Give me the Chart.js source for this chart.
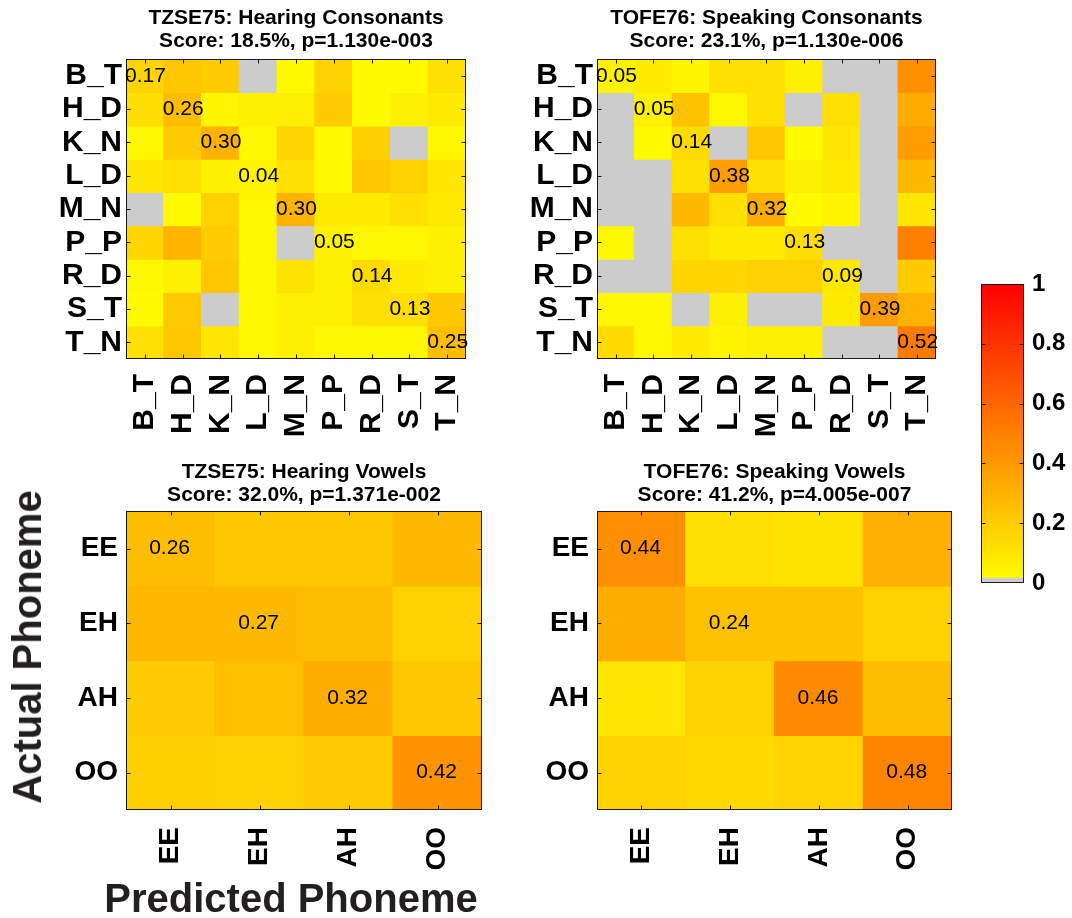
<!DOCTYPE html>
<html>
<head>
<meta charset="utf-8">
<script src="https://cdn.jsdelivr.net/npm/chart.js@4.4.1/dist/chart.umd.min.js"></script>
<style>
  html, body { margin: 0; padding: 0; background: #ffffff; }
  body { position: relative; width: 1072px; height: 918px; overflow: hidden; font-family: "Liberation Sans", Arial, Helvetica, sans-serif; }
  .box { position: absolute; }
  .box canvas { display: block; }
  .big { position: absolute; font-weight: bold; font-size: 40px; color: #231f20; white-space: nowrap; line-height: 1; }
</style>
</head>
<body>
<div class="box" style="left:0px;top:0px;width:500px;height:450px"><canvas id="cHC" width="500" height="450"></canvas></div>
<div class="box" style="left:470px;top:0px;width:500px;height:450px"><canvas id="cSC" width="500" height="450"></canvas></div>
<div class="box" style="left:0px;top:450px;width:500px;height:468px"><canvas id="cHV" width="500" height="468"></canvas></div>
<div class="box" style="left:470px;top:450px;width:500px;height:468px"><canvas id="cSV" width="500" height="468"></canvas></div>
<div class="box" style="left:970px;top:250px;width:102px;height:360px"><canvas id="cCB" width="102" height="360"></canvas></div>
<div class="big" id="ylab" style="left:27px;top:647px;transform:translate(-50%,-50%) rotate(-90deg);">Actual Phoneme</div>
<div class="big" id="xlab" style="left:291px;top:898px;transform:translate(-50%,-50%);">Predicted Phoneme</div>
<script>
// ---------------- data ----------------
const consonantLabels = ['B_T', 'H_D', 'K_N', 'L_D', 'M_N', 'P_P', 'R_D', 'S_T', 'T_N'];
const vowelLabels = ['EE', 'EH', 'AH', 'OO'];

// rows = actual phoneme, columns = predicted phoneme
const hearingConsonants = [
  [0.17, 0.22, 0.20, 0.00, 0.02, 0.18, 0.02, 0.02, 0.12],
  [0.13, 0.26, 0.04, 0.06, 0.06, 0.20, 0.02, 0.06, 0.08],
  [0.03, 0.20, 0.30, 0.03, 0.17, 0.02, 0.19, 0.00, 0.03],
  [0.10, 0.12, 0.05, 0.04, 0.12, 0.03, 0.22, 0.18, 0.10],
  [0.00, 0.02, 0.18, 0.03, 0.30, 0.08, 0.08, 0.12, 0.09],
  [0.16, 0.29, 0.20, 0.03, 0.00, 0.05, 0.03, 0.03, 0.06],
  [0.03, 0.06, 0.22, 0.03, 0.11, 0.06, 0.14, 0.08, 0.06],
  [0.02, 0.21, 0.00, 0.03, 0.06, 0.06, 0.12, 0.13, 0.22],
  [0.12, 0.22, 0.10, 0.03, 0.06, 0.03, 0.03, 0.03, 0.25]
];
const speakingConsonants = [
  [0.05, 0.08, 0.04, 0.12, 0.12, 0.06, 0.00, 0.00, 0.43],
  [0.00, 0.05, 0.24, 0.03, 0.12, 0.00, 0.12, 0.00, 0.33],
  [0.00, 0.02, 0.14, 0.00, 0.22, 0.02, 0.10, 0.00, 0.39],
  [0.00, 0.00, 0.12, 0.38, 0.12, 0.06, 0.08, 0.00, 0.27],
  [0.00, 0.00, 0.27, 0.12, 0.32, 0.02, 0.04, 0.00, 0.10],
  [0.03, 0.00, 0.12, 0.08, 0.08, 0.13, 0.00, 0.00, 0.50],
  [0.00, 0.00, 0.16, 0.16, 0.18, 0.18, 0.09, 0.00, 0.20],
  [0.03, 0.03, 0.00, 0.06, 0.00, 0.00, 0.08, 0.39, 0.30],
  [0.14, 0.03, 0.08, 0.04, 0.06, 0.06, 0.00, 0.00, 0.52]
];
const hearingVowels = [
  [0.26, 0.22, 0.22, 0.27],
  [0.28, 0.27, 0.26, 0.18],
  [0.20, 0.25, 0.32, 0.22],
  [0.19, 0.18, 0.20, 0.42]
];
const speakingVowels = [
  [0.44, 0.12, 0.11, 0.31],
  [0.33, 0.24, 0.24, 0.18],
  [0.10, 0.18, 0.46, 0.26],
  [0.18, 0.15, 0.17, 0.48]
];
const titleHC = ['TZSE75: Hearing Consonants', 'Score: 18.5%, p=1.130e-003'];
const titleSC = ['TOFE76: Speaking Consonants', 'Score: 23.1%, p=1.130e-006'];
const titleHV = ['TZSE75: Hearing Vowels', 'Score: 32.0%, p=1.371e-002'];
const titleSV = ['TOFE76: Speaking Vowels', 'Score: 41.2%, p=4.005e-007'];
const colorbarTicks = [0, 0.2, 0.4, 0.6, 0.8, 1];
const colorbarTickLabels = ['0', '0.2', '0.4', '0.6', '0.8', '1'];

// ---------------- styling helpers ----------------
const FONT = "'Liberation Sans', Arial, Helvetica, sans-serif";
const GRAY = '#cccccc';
function cellColor(v) {
  if (v <= 0) return GRAY;
  const g = Math.round(255 * (1 - v));
  return 'rgb(255,' + g + ',0)';
}

const framePlugin = {
  id: 'frame',
  afterDatasetsDraw(chart, args, opts) {
    const ctx = chart.ctx, a = chart.chartArea;
    const L = Math.round(a.left) + 0.5, R = Math.round(a.right) - 0.5;
    const T = Math.round(a.top) + 0.5, B = Math.round(a.bottom) - 0.5;
    const len = 4;
    ctx.save();
    ctx.strokeStyle = '#1a1a1a';
    ctx.lineWidth = 1;
    ctx.beginPath();
    const ys = chart.scales.y;
    ys.ticks.forEach(t => {
      const p = Math.round(ys.getPixelForValue(t.value)) + 0.5;
      if (p <= T + 1 || p >= B - 1) return;
      ctx.moveTo(L, p); ctx.lineTo(L + len, p);
      ctx.moveTo(R, p); ctx.lineTo(R - len, p);
    });
    const xs = chart.scales.x;
    if (xs.options.display !== false) {
      xs.ticks.forEach((t, i) => {
        const p = Math.round(xs.getPixelForTick(i)) + 0.5;
        ctx.moveTo(p, B); ctx.lineTo(p, B - len);
        ctx.moveTo(p, T); ctx.lineTo(p, T + len);
      });
    }
    ctx.stroke();
    ctx.strokeRect(L, T, R - L, B - T);
    ctx.restore();
  }
};

const diagPlugin = {
  id: 'diagLabels',
  afterDatasetsDraw(chart, args, opts) {
    if (!opts || !opts.matrix) return;
    const ctx = chart.ctx, xs = chart.scales.x, ys = chart.scales.y;
    const m = opts.matrix;
    const cw = (xs.right - xs.left) / m.length;
    ctx.save();
    ctx.font = '21px ' + FONT;
    ctx.fillStyle = '#000';
    ctx.textAlign = 'left';
    ctx.textBaseline = 'middle';
    for (let i = 0; i < m.length; i++) {
      const x = xs.getPixelForValue(i) - cw / 2 + opts.offset * cw + opts.px;
      const y = ys.getPixelForValue(i);
      ctx.fillText(m[i][i].toFixed(2), x, y);
    }
    ctx.restore();
  }
};

function heatmap(id, labels, matrix, title, o) {
  const n = labels.length;
  const datasets = matrix.map((row, r) => ({
    label: labels[r],
    data: row.map(() => [r - 0.5, r + 0.5]),
    backgroundColor: row.map(cellColor),
    borderWidth: 0,
    inflateAmount: 0.6,
    barPercentage: 1,
    categoryPercentage: 1,
    grouped: false
  }));
  const tickFont = { family: FONT, size: o.tickSize, weight: 'bold' };
  return new Chart(document.getElementById(id), {
    type: 'bar',
    data: { labels: labels, datasets: datasets },
    plugins: [framePlugin, diagPlugin],
    options: {
      responsive: false,
      animation: false,
      layout: { padding: { left: 0, right: o.padRight, top: 0, bottom: 0 } },
      plugins: {
        legend: { display: false },
        tooltip: { enabled: false },
        title: {
          display: true, text: title, fullSize: false, color: '#000',
          font: { family: FONT, size: 21, weight: 'bold', lineHeight: 1.1 },
          padding: { top: o.titleTop, bottom: o.titleBottom }
        },
        diagLabels: { matrix: matrix, offset: o.textOffset, px: o.textPx }
      },
      scales: {
        x: {
          type: 'category', offset: true,
          grid: { display: false, drawTicks: false },
          border: { display: false },
          ticks: { autoSkip: false, minRotation: 90, maxRotation: 90, padding: o.xPad, color: '#000', font: tickFont },
          afterFit(s) { s.height = o.xAxisH; }
        },
        y: {
          type: 'linear', reverse: true, min: -0.5, max: n - 0.5,
          grid: { display: false, drawTicks: false },
          border: { display: false },
          afterBuildTicks(s) { s.ticks = labels.map((_, i) => ({ value: i })); },
          ticks: { autoSkip: false, padding: o.yPad, color: '#000', font: tickFont, callback: (v) => labels[v] },
          afterFit(s) { s.width = o.yAxisW; }
        }
      }
    }
  });
}

heatmap('cHC', consonantLabels, hearingConsonants, titleHC,
  { padRight: 18, yAxisW: 126, xAxisH: 91, titleTop: 7, titleBottom: 6, xPad: 15, yPad: 4, textOffset: 0, textPx: -1, tickSize: 30 });
heatmap('cSC', consonantLabels, speakingConsonants, titleSC,
  { padRight: 18, yAxisW: 127, xAxisH: 91, titleTop: 7, titleBottom: 6, xPad: 15, yPad: 4, textOffset: 0, textPx: -1, tickSize: 30 });
heatmap('cHV', vowelLabels, hearingVowels, titleHV,
  { padRight: 18, yAxisW: 126, xAxisH: 108, titleTop: 11, titleBottom: 4, xPad: 17, yPad: 8, textOffset: 0.26, textPx: 0, tickSize: 28 });
heatmap('cSV', vowelLabels, speakingVowels, titleSV,
  { padRight: 18, yAxisW: 127, xAxisH: 108, titleTop: 11, titleBottom: 4, xPad: 17, yPad: 8, textOffset: 0.26, textPx: 0, tickSize: 28 });

// ---------------- colour bar ----------------
new Chart(document.getElementById('cCB'), {
  type: 'bar',
  data: {
    labels: [''],
    datasets: [
      { data: [[0, 1 / 64]], backgroundColor: GRAY, borderWidth: 0, barPercentage: 1, categoryPercentage: 1, grouped: false, inflateAmount: 0.5 },
      {
        data: [[1 / 64, 1]], borderWidth: 0, barPercentage: 1, categoryPercentage: 1, grouped: false, inflateAmount: 0.5,
        backgroundColor: (c) => {
          const ch = c.chart, ys = ch.scales.y;
          if (!ch.chartArea || !ys) return '#ffaa00';
          const g = ch.ctx.createLinearGradient(0, ys.getPixelForValue(0), 0, ys.getPixelForValue(1));
          g.addColorStop(0, cellColor(0.0001));
          g.addColorStop(1, cellColor(1));
          return g;
        }
      }
    ]
  },
  plugins: [framePlugin],
  options: {
    responsive: false,
    animation: false,
    layout: { padding: { left: 11, right: 0, top: 34, bottom: 27 } },
    plugins: { legend: { display: false }, tooltip: { enabled: false } },
    scales: {
      x: { display: false, offset: true },
      y: {
        position: 'right', min: 0, max: 1,
        grid: { display: false, drawTicks: false },
        border: { display: false },
        afterBuildTicks(s) { s.ticks = colorbarTicks.map(v => ({ value: v })); },
        ticks: { autoSkip: false, padding: 8, color: '#000', font: { family: FONT, size: 24, weight: 'bold' },
                 callback: (v, i) => colorbarTickLabels[i] },
        afterFit(s) { s.width = 48; }
      }
    }
  }
});
</script>
</body>
</html>
